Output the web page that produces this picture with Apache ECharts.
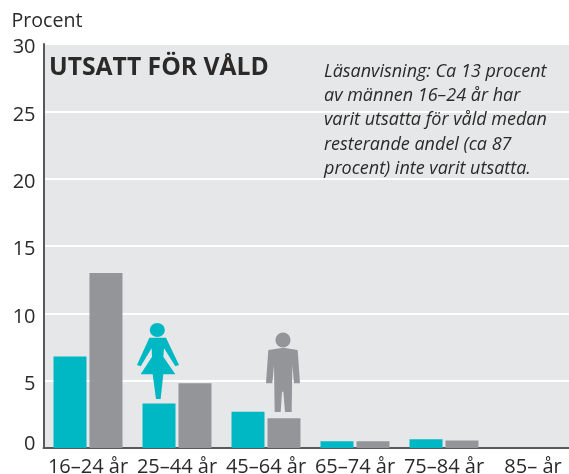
<!DOCTYPE html>
<html><head><meta charset="utf-8">
<style>html,body{margin:0;padding:0;background:#fff}#c{width:569px;height:474px}</style>
<script src="https://cdn.jsdelivr.net/npm/echarts@6/dist/echarts.min.js"></script>
</head><body><div id="c"></div>
<script>
const categories = ['16–24 år','25–44 år','45–64 år','65–74 år','75–84 år','85– år'];
const women = [6.8,3.3,2.7,0.5,0.65,0];
const men = [13,4.8,2.2,0.5,0.55,0];
const titleText = 'UTSATT FÖR VÅLD';
const yName = 'Procent';
const noteLines = ['Läsanvisning: Ca 13 procent','av männen 16–24 år har','varit utsatta för våld medan','resterande andel (ca 87','procent) inte varit utsatta.'];
const F = '"Open Sans"';
const TEAL='#00b8c4', GREY='#939598', INK='#2b2a29', AXIS='#58595b';
const womanBody = [[58,68],[108,68],[147,150],[136,154],[102,100],[100,125],[136,178],[100,178],[92,252],[78,252],[68,178],[32,178],[66,125],[65,100],[32,154],[21,150]];
const manBody = [[415,105],[460,98],[503,105],[510,205],[492,205],[487,150],[485,291],[465,291],[460,230],[456,230],[452,291],[434,291],[432,150],[427,205],[408,205]];
const labelRich = {fontFamily:F,fontSize:20,color:INK};
const chart = echarts.init(document.getElementById('c'),null,{renderer:'canvas'});
chart.setOption({
  animation:false,
  backgroundColor:'#fff',
  grid:{left:43.5,top:44,width:534,height:404,show:true,backgroundColor:'#e6e7e8',borderWidth:0,containLabel:false,outerBoundsMode:'none'},
  title:{text:titleText,left:49,top:55.5,padding:0,textStyle:{fontFamily:F,fontWeight:'bold',fontSize:24.7,color:INK}},
  xAxis:{type:'category',data:categories,
    axisLine:{show:true,lineStyle:{color:AXIS,width:2}},axisTick:{show:false},
    axisLabel:{interval:0,margin:9,fontFamily:F,fontSize:20,color:INK,hideOverlap:false}},
  yAxis:{type:'value',min:0,max:30,interval:5,name:yName,
    nameLocation:'end',nameGap:13,
    nameTextStyle:{fontFamily:F,fontSize:19.6,color:INK,align:'left',padding:[0,0,0,-32]},
    axisLine:{show:true,lineStyle:{color:AXIS,width:2}},axisTick:{show:false},
    axisLabel:{margin:8,fontFamily:F,fontSize:20,color:INK,
      formatter:v=>v===0?'{z|'+v+'}':'{a|'+v+'}',
      rich:{a:{...labelRich,padding:[7,0,0,0]},z:{...labelRich,padding:[0,0,8,0]}}},
    splitLine:{show:true,lineStyle:{color:'#fff',width:2}}},
  series:[
    {name:'Kvinnor',type:'bar',data:women,barWidth:33,barGap:'9%',itemStyle:{color:TEAL}},
    {name:'Män',type:'bar',data:men,barWidth:33,itemStyle:{color:GREY}}
  ],
  graphic:[
    {type:'text',x:324,y:59.5,z:10,style:{text:noteLines.join('\n'),fontFamily:F,fontStyle:'italic',fontSize:18,lineHeight:24.3,fill:INK}},
    {type:'polygon',x:130,y:315,scaleX:1/3,scaleY:1/3,z:10,shape:{points:womanBody},style:{fill:TEAL}},
    {type:'circle',x:157.3,y:330,scaleX:1.05,scaleY:0.98,z:10,shape:{cx:0,cy:0,r:7.2},style:{fill:TEAL}},
    {type:'polygon',x:130,y:315,scaleX:1/3,scaleY:1/3,z:10,shape:{points:manBody},style:{fill:GREY}},
    {type:'circle',x:283,y:340,z:10,shape:{cx:0,cy:0,r:7.6},style:{fill:GREY}}
  ]
});
</script></body></html>
